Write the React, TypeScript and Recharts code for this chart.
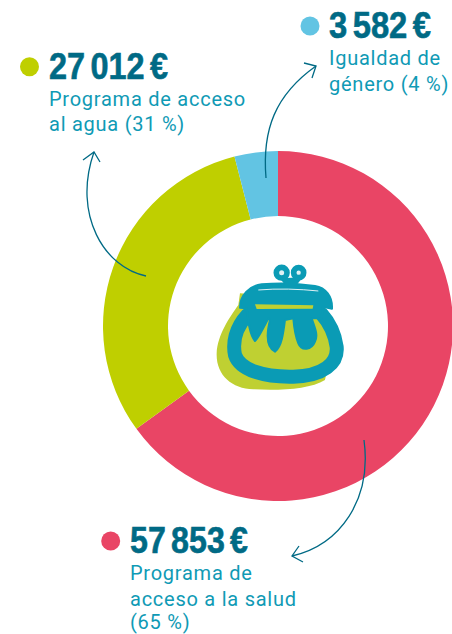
import { PieChart, Pie, Cell } from "recharts";

const concepts = ["Programa de acceso a la salud", "Programa de acceso al agua", "Igualdad de género"];
const shares = [65, 31, 4];
const amountLabels = ["57 853 €", "27 012 €", "3 582 €"];
const sliceColors = ["#e94565", "#bfcf00", "#62c4e3"];

const chartData = concepts.map((name, i) => ({ name, value: shares[i] }));

const AMOUNT_COLOR = "#006a85";
const LABEL_COLOR = "#0f9ab5";
const TEAL = "#0a9bb5";
const LIME = "#bfd032";

const amountFont = {
  fontFamily: "'Liberation Sans', sans-serif",
  fontWeight: 700,
  fontSize: 36,
  wordSpacing: -4,
  fill: AMOUNT_COLOR,
  stroke: AMOUNT_COLOR,
  strokeWidth: 0.6,
  lengthAdjust: "spacingAndGlyphs" as const,
};
const labelFont = { fontFamily: "Roboto, sans-serif", fontSize: 20, letterSpacing: 0.75, fill: LABEL_COLOR };

function Arrow({ d, head }: { d: string; head: string }) {
  return (
    <g fill="none" stroke={AMOUNT_COLOR} strokeWidth={1.3}>
      <path d={d} />
      <path d={head} />
    </g>
  );
}

// monedero del centro, dibujado a mano sobre un lienzo 3x
function Purse() {
  return (
    <g transform="translate(190 240) scale(0.3333)">
      <path
        d="M145,195 C120,230 82,285 80,340 C78,405 125,445 190,448 C270,452 360,448 405,420 L430,300 L400,180 L150,160 Z"
        fill={LIME}
      />
      <path
        d="M172,225 C135,265 128,310 135,345 C150,390 220,412 310,410 C400,408 445,370 440,320 C435,285 420,250 395,222"
        fill="none"
        stroke={TEAL}
        strokeWidth={42}
        strokeLinecap="round"
      />
      <path
        d="M150,203 C150,165 178,138 215,133 C270,128 330,131 375,138 C407,143 428,170 426,206 L398,200 L395,235 L365,235 C375,265 385,285 375,305 C365,330 335,335 325,310 C315,285 312,260 310,235 L285,240 C280,280 275,320 255,335 C235,325 225,300 240,240 L235,235 C220,265 205,295 195,303 C180,285 175,250 170,205 Z"
        fill={TEAL}
        stroke={TEAL}
        strokeWidth={6}
        strokeLinejoin="round"
      />
      <path d="M195,193 L370,196 L368,206 L200,207 Z" fill={LIME} />
      <path d="M205,150 C260,145 330,147 385,153" fill="none" stroke="#dff1f4" strokeWidth={3} />
      <circle cx={275} cy={98} r={16} fill="#dff1f4" stroke={TEAL} strokeWidth={17} />
      <circle cx={326} cy={98} r={15} fill="#dff1f4" stroke={TEAL} strokeWidth={17} />
      <path d="M270,115 L338,112 L320,135 L285,135 Z" fill={TEAL} />
    </g>
  );
}

export default function App() {
  return (
    <div style={{ position: "absolute", left: 0, top: 0, width: 452, height: 634, overflow: "hidden", background: "#fff" }}>
      <PieChart width={452} height={634} margin={{ top: 0, right: 0, bottom: 0, left: 0 }}>
        <Pie
          data={chartData}
          dataKey="value"
          cx={278}
          cy={326}
          innerRadius={110}
          outerRadius={175}
          startAngle={90}
          endAngle={-270}
          stroke="none"
          isAnimationActive={false}
        >
          {chartData.map((d, i) => (
            <Cell key={d.name} fill={sliceColors[i]} />
          ))}
        </Pie>
      </PieChart>

      <svg width={452} height={634} style={{ position: "absolute", left: 0, top: 0 }}>
        <Purse />

        <Arrow d="M266,178 C262,130 275,95 316,66" head="M304,63 L316,66 L312,78" />
        <Arrow d="M146,276 C105,268 72,215 94,152" head="M83,160 L94,152 L100,162" />
        <Arrow d="M364,440 C372,500 340,545 292,556" head="M299,546 L292,556 L303,562" />

        <circle cx={29.5} cy={66.7} r={9.5} fill={sliceColors[1]} />
        <circle cx={310} cy={26} r={9.5} fill={sliceColors[2]} />
        <circle cx={110.7} cy={541} r={9.5} fill={sliceColors[0]} />

        <text x={49} y={79} textLength={119} {...amountFont}>{amountLabels[1]}</text>
        <text x={49} y={106} {...labelFont}>Programa de acceso</text>
        <text x={49} y={131} {...labelFont}>al agua (31 %)</text>

        <text x={329} y={38} textLength={102} {...amountFont}>{amountLabels[2]}</text>
        <text x={329} y={65} {...labelFont}>Igualdad de</text>
        <text x={329} y={91} {...labelFont}>género (4 %)</text>

        <text x={130} y={553} textLength={118} {...amountFont}>{amountLabels[0]}</text>
        <text x={130} y={580} {...labelFont}>Programa de</text>
        <text x={130} y={606} {...labelFont}>acceso a la salud</text>
        <text x={130} y={629} {...labelFont}>(65 %)</text>
      </svg>
    </div>
  );
}
